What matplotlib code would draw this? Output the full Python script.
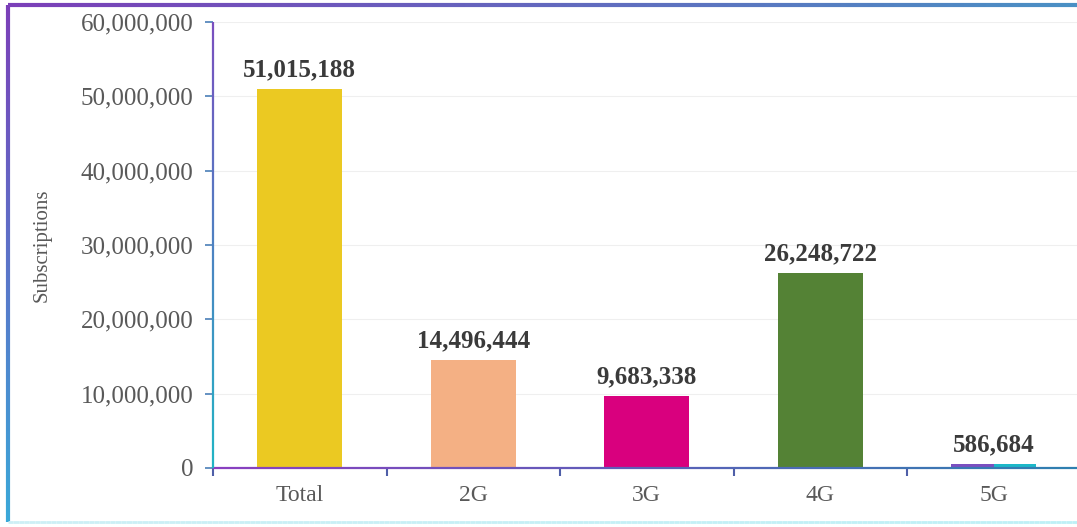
import matplotlib
matplotlib.use("Agg")
import matplotlib.pyplot as plt
import numpy as np
from matplotlib.collections import LineCollection
from matplotlib.colors import LinearSegmentedColormap
from matplotlib.ticker import FuncFormatter

categories = ["Total", "2G", "3G", "4G", "5G"]
subscriptions = [51015188, 14496444, 9683338, 26248722, 586684]
bar_colors = ["#EBC922", "#F4B084", "#D9007E", "#548235", "#7B4FC0"]
split_color = "#1DB8C8"  # second half of the 5G bar

plt.rcParams["font.family"] = ["Liberation Serif", "DejaVu Serif"]


def gradient_line(x, y, c0, c1, lw, transform, n=200):
    xs = np.linspace(x[0], x[1], n)
    ys = np.linspace(y[0], y[1], n)
    pts = np.column_stack([xs, ys]).reshape(-1, 1, 2)
    segs = np.concatenate([pts[:-1], pts[1:]], axis=1)
    cmap = LinearSegmentedColormap.from_list("g", [c0, c1])
    return LineCollection(segs, colors=cmap(np.linspace(0, 1, n - 1)),
                          linewidths=lw, transform=transform, clip_on=False,
                          capstyle="butt", zorder=4)


W, H = 1077, 527
fig = plt.figure(figsize=(W / 100, H / 100), dpi=100)
ax = fig.add_axes([213 / W, 1 - 468 / H, 867.5 / W, 446 / H])

x = np.arange(len(categories))
width = 0.49
for i, (v, c) in enumerate(zip(subscriptions, bar_colors)):
    if categories[i] == "5G":
        ax.bar(x[i] - width / 2, v, width / 2, align="edge", color=c, zorder=3)
        ax.bar(x[i], v, width / 2, align="edge", color=split_color, zorder=3)
    else:
        ax.bar(x[i], v, width, color=c, zorder=3)
    ax.annotate(f"{v:,}", (x[i], v), xytext=(0, 9), textcoords="offset points",
                ha="center", va="baseline", fontsize=18, fontweight="bold",
                color="#3A3A3A")

ax.set_xlim(-0.5, len(categories) - 0.5)
ax.set_ylim(0, 60000000)
ax.set_yticks(np.arange(0, 60000001, 10000000))
ax.yaxis.set_major_formatter(FuncFormatter(lambda v, p: f"{int(v):,}"))
ax.set_xticks(x)
ax.set_xticklabels(categories)
ax.set_xticks(np.arange(-0.5, len(categories), 1), minor=True)
ax.tick_params(axis="x", which="major", length=0, pad=12,
               labelsize=17, labelcolor="#595959")
ax.tick_params(axis="x", which="minor", length=6, width=1.5,
               direction="out", color="#4F5FA8")
ax.tick_params(axis="y", length=6, width=1.2, pad=8, color="#4A7FB8",
               labelsize=18, labelcolor="#595959")
ax.set_ylabel("Subscriptions", fontsize=15, color="#595959", labelpad=21)

ax.grid(axis="y", color="#EFEFEF", linewidth=0.8, zorder=0)
for s in ax.spines.values():
    s.set_visible(False)

# axis lines drawn with a purple-to-blue gradient
ax.add_collection(gradient_line((0, 1), (0, 0), "#8A3FC0", "#2E80B0", 1.6, ax.transAxes))
ax.add_collection(gradient_line((0, 0), (1, 0), "#7A4FBF", "#21B4C4", 1.6, ax.transAxes))

# frame around the whole figure
ft = fig.transFigure
fig.add_artist(gradient_line((8 / W, 1.0), (1 - 5 / H, 1 - 5 / H), "#7B3FB8", "#4A90C4", 3, ft))
fig.add_artist(gradient_line((8 / W, 8 / W), (1 - 5 / H, 5 / H), "#7B3FB8", "#3AA8D8", 3, ft))
fig.add_artist(gradient_line((8 / W, 1.0), (5 / H, 5 / H), "#CDEFF5", "#BDF0F6", 2, ft))

fig.savefig("out.png", dpi=100)
